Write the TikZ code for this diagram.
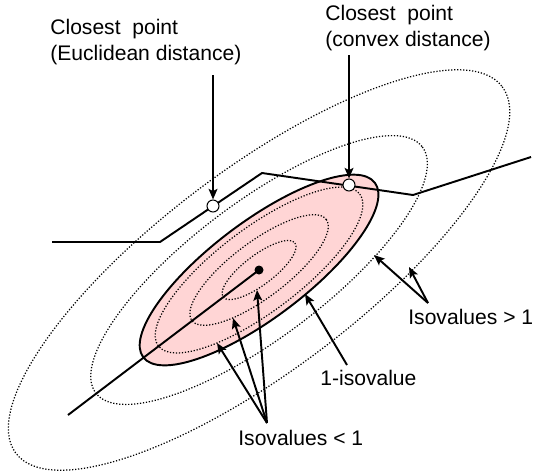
\documentclass[tikz,border=0pt]{standalone}
\usepackage{fontspec}
\setmainfont{Liberation Sans}
\usetikzlibrary{arrows.meta, calc}
\definecolor{isofill}{HTML}{FFD5D5}

\begin{document}
\begin{tikzpicture}[x=0.02cm, y=-0.02cm, font=\fontsize{12}{15.3}\selectfont,
    isoline/.style={line width=0.7pt, dash pattern=on 0.7pt off 1pt},
    bold/.style={line width=1.1pt},
    pointer/.style={line width=1.1pt, -{Stealth[length=6pt, width=5pt, inset=1.2pt]}},
    lbl/.style={anchor=west, inner sep=0pt, align=left},
    hole/.style={circle, draw, fill=white, line width=0.6pt, minimum size=0.24cm, inner sep=0pt}]
    \useasboundingbox (0,0) rectangle (533,474);
    \coordinate (ctr) at (259,270);
    \foreach \s in {1.41, 2.1}
      \draw[isoline, rotate around={37:(ctr)}] (ctr) ellipse [x radius=145*\s, y radius=48*\s];
    \draw[bold, fill=isofill, rotate around={37:(ctr)}] (ctr) ellipse [x radius=145, y radius=48];
    \foreach \s in {0.31, 0.58, 0.87}
      \draw[isoline, rotate around={37:(ctr)}] (ctr) ellipse [x radius=145*\s, y radius=48*\s];
    \coordinate (far) at (68,415);
    \draw[bold] (ctr) -- (far);
    \node[circle, fill, minimum size=0.18cm, inner sep=0pt] (dot) at (ctr) {};
    \coordinate (q1) at (52,242);
    \coordinate (q2) at (160,242);
    \coordinate (q3) at (262,173);
    \coordinate (q4) at (413,195);
    \coordinate (q5) at (531,157);
    \draw[bold] (q1) -- (q2) -- (q3) -- (q4) -- (q5);
    \node[hole] (eucl) at (213,206) {};
    \node[hole] (conv) at (349,185) {};
    \node[lbl] (euclab) at (50,42) {Closest\ \ point\\(Euclidean distance)};
    \node[lbl] (convlab) at (325,28) {Closest\ \ point\\(convex distance)};
    \node[lbl] (gtlab) at (408,317) {Isovalues > 1};
    \node[lbl] (onelab) at (320,378) {1-isovalue};
    \node[lbl] (ltlab) at (238,438) {Isovalues < 1};
    \coordinate (euctail) at (213,75);
    \coordinate (convtail) at (349,55);
    \draw[pointer] (euctail) -- (eucl);
    \draw[pointer] (convtail) -- (conv);
    \coordinate (onetail) at (347,365);
    \coordinate (onetip) at (305,294);
    \draw[pointer] (onetail) -- (onetip);
    \coordinate (gttail) at (428,303);
    \coordinate (gt1) at (374,255);
    \coordinate (gt2) at (409,267);
    \foreach \t in {gt1, gt2}
      \draw[pointer] (gttail) -- (\t);
    \coordinate (lttail) at (267,423);
    \coordinate (lt1) at (217,343);
    \coordinate (lt2) at (233,318);
    \coordinate (lt3) at (257,290);
    \foreach \t in {lt1, lt2, lt3}
      \draw[pointer] (lttail) -- (\t);
\end{tikzpicture}
\end{document}
